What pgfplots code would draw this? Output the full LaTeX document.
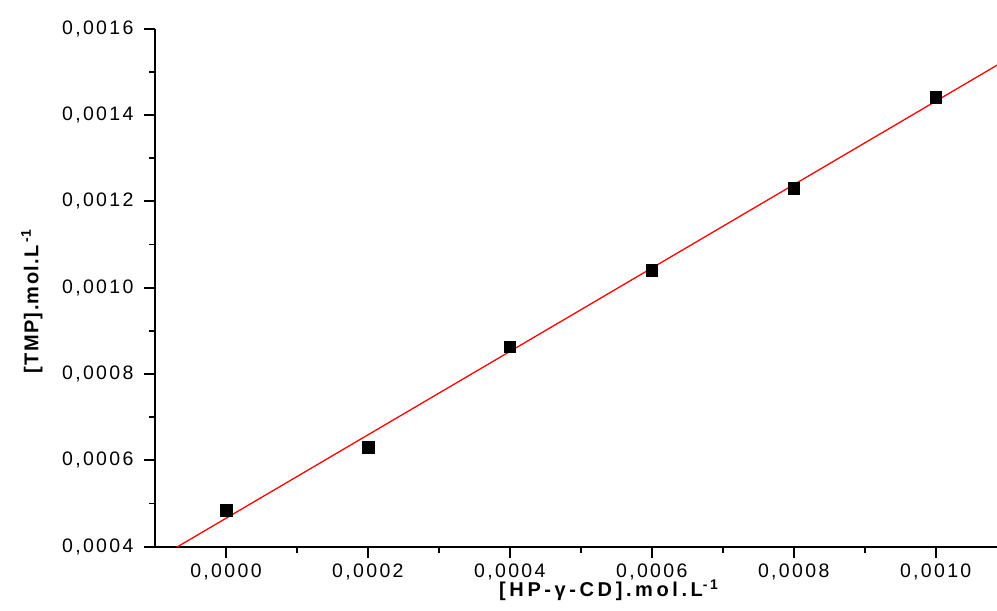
\documentclass[border=0pt]{standalone}
\usepackage{fontspec}
\setmainfont{Liberation Sans}
\newfontfamily\tickfont{Liberation Sans}[LetterSpace=12]
\newfontfamily\xlabfont{Liberation Sans}[LetterSpace=18]
\newfontfamily\ylabfont{Liberation Sans}[LetterSpace=7]
\usepackage{pgfplots}
\pgfplotsset{compat=1.18}
\begin{document}
\begin{tikzpicture}
\useasboundingbox (-155bp,-64.3bp) rectangle (842bp,546.7bp);
\begin{axis}[
  at={(0,0)}, anchor=south west,
  scale only axis, width=842bp, height=518bp,
  xmin=-0.0001, xmax=0.0010864, ymin=0.0004, ymax=0.0016,
  axis x line*=bottom, axis y line*=left,
  axis line style={line width=2bp, black},
  xtick={0,0.0002,0.0004,0.0006,0.0008,0.001},
  ytick={0.0004,0.0006,0.0008,0.001,0.0012,0.0014,0.0016},
  minor x tick num=1, minor y tick num=1,
  tick align=outside, major tick length=11bp, minor tick length=6bp,
  every tick/.style={line width=1.8bp, black},
  scaled ticks=false,
  /pgf/number format/.cd, fixed, fixed zerofill, precision=4, use comma, 1000 sep={}, assume math mode=true,
  /pgfplots/.cd,
  ticklabel style={font=\tickfont\fontsize{19.5bp}{23bp}\selectfont},
  yticklabel style={xshift=-7bp},
  xticklabel style={yshift=-3bp},
  xlabel={\xlabfont\bfseries [HP-γ-CD].mol.L\textsuperscript{-1}},
  ylabel={\ylabfont\bfseries [TMP].mol.L\textsuperscript{\,-1}},
  xlabel style={at={(axis description cs:0.539,-0.0965)}, anchor=base, font=\fontsize{20bp}{24bp}\selectfont},
  ylabel style={at={(axis description cs:-0.1384,0.474)}, anchor=base, font=\fontsize{20bp}{24bp}\selectfont},
]
\addplot[only marks, mark=square*, mark size=5.8bp, black] coordinates {
  (0,0.000485) (0.0002,0.000631) (0.0004,0.000863) (0.0006,0.001041) (0.0008,0.001231) (0.001,0.001442)
};
\addplot[red, line width=1.3bp] coordinates {(-0.0001,0.0003692) (0.0011,0.0015285)};
\end{axis}
\end{tikzpicture}
\end{document}
